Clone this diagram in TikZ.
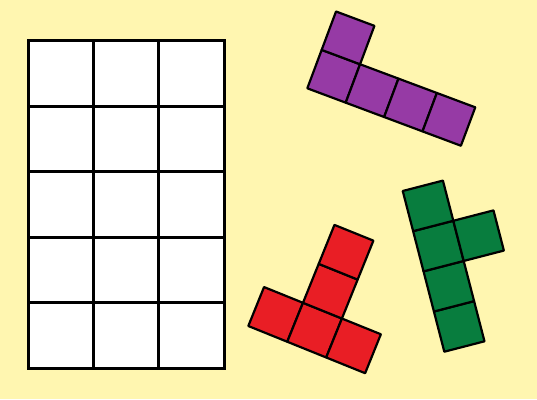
\documentclass[tikz,border=0pt]{standalone}
\usetikzlibrary{calc}
\definecolor{paper}{RGB}{255,246,176}
\definecolor{pviolet}{RGB}{150,58,165}
\definecolor{pred}{RGB}{233,30,37}
\definecolor{pgreen}{RGB}{8,125,62}
\tikzset{
  cell/.style={draw=black,line width=2.2pt,line join=round},
  board/.style={draw=black,line width=3pt,line cap=rect}
}
\begin{document}
\begin{tikzpicture}[x=1pt,y=-1pt]
\fill[paper] (0,0) rectangle (537,399);
% board, 3 by 5
\begin{scope}[shift={(28,40.5)},x=65.4pt,y=-65.6pt]
\fill[white] (0,0) rectangle (3,5);
\foreach \c in {1,2} \draw[board] (\c,0)--(\c,5);
\foreach \r in {1,...,4} \draw[board] (0,\r)--(3,\r);
\draw[board,line join=miter] (0,0) rectangle (3,5);
\end{scope}
% pieces
\begin{scope}[shift={(307.3,88.3)},rotate=-20.5,x=41pt,y=41pt]
\foreach \i/\j in {0/0,1/0,2/0,3/0,0/1} \draw[cell,fill=pviolet] (\i,\j) rectangle ++(1,1);
\end{scope}
\begin{scope}[shift={(248.3,326)},rotate=-22,x=42pt,y=42pt]
\foreach \i/\j in {0/0,1/0,2/0,1/1,1/2} \draw[cell,fill=pred] (\i,\j) rectangle ++(1,1);
\end{scope}
\begin{scope}[shift={(444.3,351.7)},rotate=14.5,x=41.5pt,y=41.5pt]
\foreach \i/\j in {0/0,0/1,0/2,0/3,1/2} \draw[cell,fill=pgreen] (\i,\j) rectangle ++(1,1);
\end{scope}
\end{tikzpicture}
\end{document}
